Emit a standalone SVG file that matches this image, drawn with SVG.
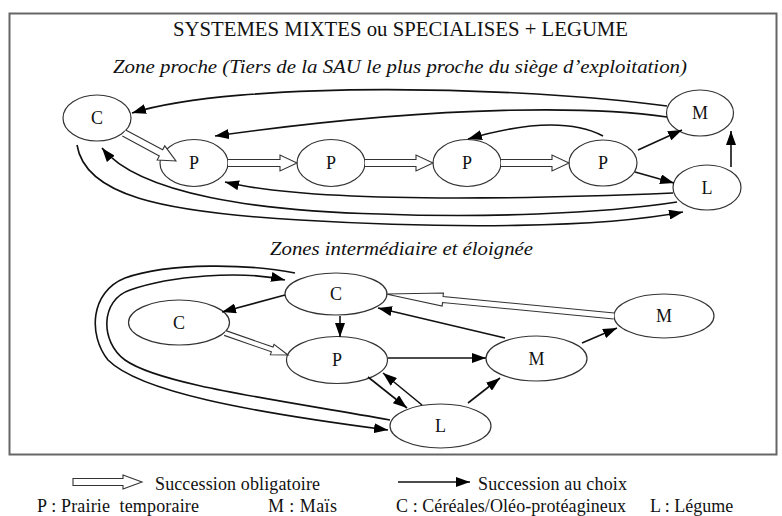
<svg xmlns="http://www.w3.org/2000/svg" width="782" height="516" viewBox="0 0 782 516">
<defs>
<marker id="ah" markerUnits="userSpaceOnUse" markerWidth="14" markerHeight="10" refX="14" refY="5" orient="auto">
<path d="M0,0 L14,5 L0,10 Z" fill="#000"/>
</marker>
<style>
.frame{fill:#fff;stroke:#666;stroke-width:2}
.nd ellipse{fill:#fff;stroke:#333;stroke-width:1.2}
.nd text{font-family:"Liberation Serif","Times New Roman",serif;font-size:18px;fill:#111;text-anchor:middle}
.c{fill:none;stroke:#111;stroke-width:1.6;marker-end:url(#ah)}
.h{fill:#fff;stroke:#333;stroke-width:1.1}
.t{font-family:"Liberation Serif","Times New Roman",serif;fill:#111}
.it{font-style:italic}
</style>
</defs>
<rect x="0" y="0" width="782" height="516" fill="#fff"/>
<rect class="frame" x="9.5" y="13.5" width="767" height="441"/>
<text class="t" x="173" y="36" font-size="20" textLength="455" lengthAdjust="spacingAndGlyphs">SYSTEMES MIXTES ou SPECIALISES + LEGUME</text>
<text class="t it" x="113" y="73" font-size="19.5" textLength="574" lengthAdjust="spacingAndGlyphs">Zone proche (Tiers de la SAU le plus proche du siège d’exploitation)</text>
<text class="t it" x="270" y="255" font-size="19.5" textLength="263" lengthAdjust="spacingAndGlyphs">Zones intermédiaire et éloignée</text>

<g id="top-C" class="nd"><ellipse cx="97" cy="118" rx="34" ry="23"/><text x="97" y="124">C</text></g>
<g id="top-P1" class="nd"><ellipse cx="194" cy="163" rx="34" ry="23.5"/><text x="194" y="169">P</text></g>
<g id="top-P2" class="nd"><ellipse cx="331" cy="163" rx="34" ry="23.5"/><text x="331" y="169">P</text></g>
<g id="top-P3" class="nd"><ellipse cx="467" cy="163" rx="34" ry="23.5"/><text x="467" y="169">P</text></g>
<g id="top-P4" class="nd"><ellipse cx="603" cy="163" rx="34" ry="23"/><text x="603" y="169">P</text></g>
<g id="top-M" class="nd"><ellipse cx="700" cy="113" rx="33.5" ry="23"/><text x="700" y="119">M</text></g>
<g id="top-L" class="nd"><ellipse cx="707" cy="187.5" rx="34" ry="22.5"/><text x="707" y="193.5">L</text></g>

<g id="bot-C1" class="nd"><ellipse cx="336" cy="294" rx="51" ry="21"/><text x="336" y="300">C</text></g>
<g id="bot-C2" class="nd"><ellipse cx="179" cy="322.5" rx="50.5" ry="22.5"/><text x="179" y="328.5">C</text></g>
<g id="bot-P" class="nd"><ellipse cx="337" cy="360" rx="50.5" ry="23.5"/><text x="337" y="366">P</text></g>
<g id="bot-M1" class="nd"><ellipse cx="536.5" cy="358.5" rx="50.5" ry="22.5"/><text x="536.5" y="364.5">M</text></g>
<g id="bot-M2" class="nd"><ellipse cx="664" cy="316" rx="50" ry="22"/><text x="664" y="322">M</text></g>
<g id="bot-L" class="nd"><ellipse cx="440.5" cy="426" rx="50.5" ry="22"/><text x="440.5" y="432">L</text></g>

<g id="connectors">
<path class="c" d="M667,106 C520,86 240,80 132,113"/>
<path class="c" d="M667,117 C600,107 450,103 215,136"/>
<path class="c" d="M603,136 C580,124 540,118 468,139"/>
<path class="c" d="M638,150 L682,130"/>
<path class="c" d="M635,172 L674,183"/>
<path class="c" d="M731,167 L731,131"/>
<path class="c" d="M673,193 C550,198 320,205 225,182"/>
<path class="c" d="M677,202 C600,214 480,218 380,214 C260,211 140,195 102,148"/>
<path class="c" d="M77,145 C85,195 160,212 300,220 C450,229 600,228 683,212"/>

<path class="h" transform="translate(124,133) rotate(28.3)" d="M0,-3.5 H42 V-8 L59,0 L42,8 V3.5 H0"/>
<path class="h" transform="translate(228,163)" d="M0,-3.5 H52 V-8 L69,0 L52,8 V3.5 H0"/>
<path class="h" transform="translate(365,163)" d="M0,-3.5 H51 V-8 L68,0 L51,8 V3.5 H0"/>
<path class="h" transform="translate(501,163)" d="M0,-3.5 H51 V-8 L68,0 L51,8 V3.5 H0"/>

<path class="c" d="M285,295 L222,312"/>
<path class="c" d="M340,316 L340,337"/>
<path class="c" d="M505,338 L378,308"/>
<path class="c" d="M388,358 L486,358"/>
<path class="c" d="M368,377 L407,408"/>
<path class="c" d="M422,405 L383,373"/>
<path class="c" d="M468,403 L500,378"/>
<path class="c" d="M582,343 L617,328"/>
<path class="c" d="M295,273 C250,264 170,262 125,278 C90,292 88,335 108,360 C140,392 250,412 388,430"/>
<path class="c" d="M390,420 C280,400 160,385 125,360 C100,342 100,300 130,290 C170,276 240,270 285,280"/>

<path class="h" transform="translate(225,333) rotate(19.25)" d="M0,-2.5 H50 V-5.5 L66.7,0 L50,5.5 V2.5 H0"/>
<path class="h" transform="translate(614,316) rotate(185.5)" d="M0,-3 H172 V-6.5 L229,0 L172,6.5 V3 H0"/>
</g>

<g id="legend">
<path class="h" transform="translate(73,482)" d="M0,-3.5 H50 V-7 L69,0 L50,7 V3.5 H0 Z"/>
<text class="t" x="155" y="490" font-size="18" textLength="165">Succession obligatoire</text>
<path class="c" d="M398,482 L470,482"/>
<text class="t" x="478" y="490" font-size="18" textLength="149">Succession au choix</text>
<text class="t" x="37" y="512" font-size="18" textLength="162" xml:space="preserve">P : Prairie  temporaire</text>
<text class="t" x="268" y="512" font-size="18" textLength="69">M : Maïs</text>
<text class="t" x="396" y="512" font-size="18" textLength="230">C : Céréales/Oléo-protéagineux</text>
<text class="t" x="650" y="512" font-size="18">L : Légume</text>
</g>
</svg>
